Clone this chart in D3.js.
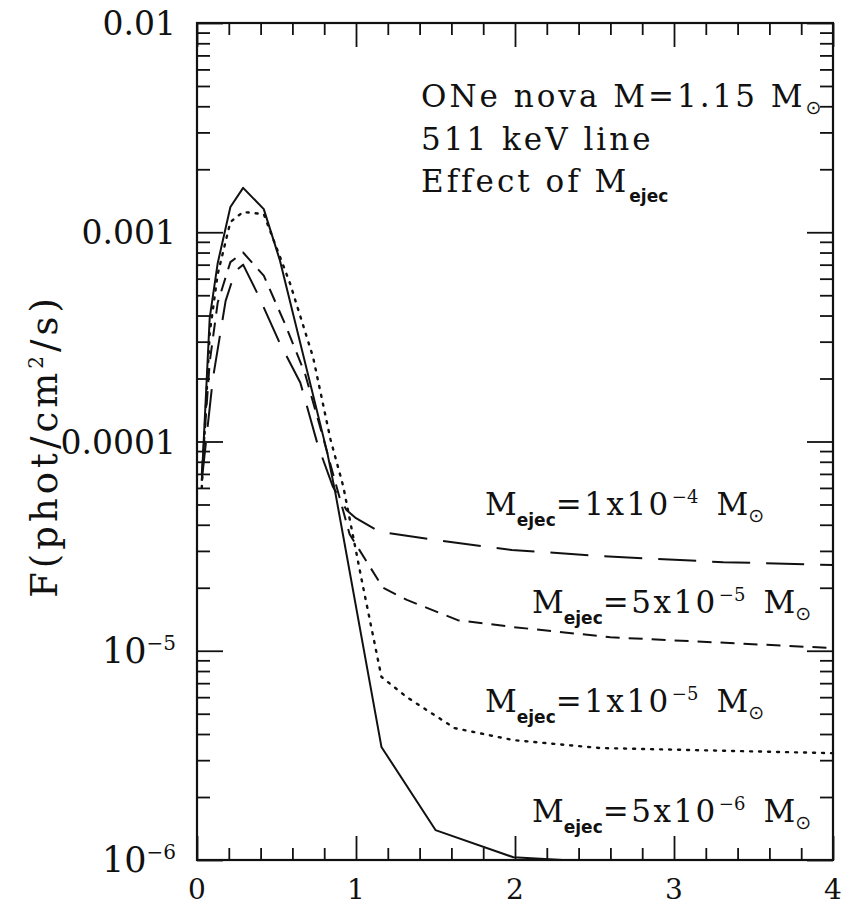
<!DOCTYPE html>
<html><head><meta charset="utf-8">
<script src="https://cdn.jsdelivr.net/npm/d3@7"></script>
<style>body{margin:0;background:#fff}</style>
</head><body>
<script>
// ---- data ----
const solidX  = [0.03, 0.08, 0.13, 0.21, 0.29, 0.42, 0.52, 0.82, 0.87, 1.16, 1.50, 1.99, 2.3, 4.0];
const solidY  = [6.5e-5, 3.9e-4, 7.1e-4, 1.32e-3, 1.63e-3, 1.29e-3, 7.4e-4, 8.8e-5, 5.7e-5, 3.47e-6, 1.39e-6, 1.03e-6, 1.0e-6, 1.0e-6];
const dotX    = [0.03, 0.08, 0.13, 0.21, 0.29, 0.42, 0.585, 0.73, 0.84, 0.92, 1.04, 1.16, 1.32, 1.62, 1.99, 2.53, 4.0];
const dotY    = [6.0e-5, 3.3e-4, 6.3e-4, 1.12e-3, 1.25e-3, 1.22e-3, 5.7e-4, 2.53e-4, 1.02e-4, 6.1e-5, 2.1e-5, 7.5e-6, 6.0e-6, 4.27e-6, 3.74e-6, 3.43e-6, 3.24e-6];
const sdashX  = [0.03, 0.08, 0.13, 0.21, 0.29, 0.42, 0.55, 0.68, 0.80, 0.88, 0.96, 1.17, 1.32, 1.64, 1.98, 2.6, 4.0];
const sdashY  = [7.0e-5, 2.4e-4, 4.6e-4, 7.2e-4, 8.0e-4, 6.2e-4, 3.7e-4, 2.1e-4, 1.0e-4, 6.0e-5, 3.6e-5, 2.0e-5, 1.75e-5, 1.4e-5, 1.3e-5, 1.16e-5, 1.03e-5];
const ldashX  = [0.03, 0.10, 0.18, 0.24, 0.29, 0.38, 0.52, 0.65, 0.76, 0.855, 0.94, 1.0, 1.15, 1.50, 1.98, 2.62, 3.31, 4.0];
const ldashY  = [6.5e-5, 2.0e-4, 4.7e-4, 6.5e-4, 7.0e-4, 5.1e-4, 2.96e-4, 1.91e-4, 9.6e-5, 6.07e-5, 4.71e-5, 4.3e-5, 3.7e-5, 3.38e-5, 3.03e-5, 2.81e-5, 2.65e-5, 2.57e-5];

const xTickMajor = [0, 1, 2, 3, 4];
const yDecades = [1e-6, 1e-5, 1e-4, 1e-3, 1e-2];
const yDecadeLabels = [["10","−6"], ["10","−5"], ["0.0001",""], ["0.001",""], ["0.01",""]];
const titleLines = ["ONe nova M=1.15 M", "511 keV line", "Effect of M"];
const labelMant = ["1", "5", "1", "5"];
const labelExp  = ["−4", "−5", "−5", "−6"];

// ---- layout ----
const W = 850, H = 907;
const L = 197, R = 833, T = 23, B = 860;
const svg = d3.select("body").append("svg").attr("width", W).attr("height", H)
  .style("font-family", "'DejaVu Serif', serif");

const x = d3.scaleLinear().domain([0, 4]).range([L, R]);
const y = d3.scaleLog().domain([1e-6, 1e-2]).range([B, T]);

const ink = "#111";

// minor ticks
const xMinor = d3.range(0, 4.001, 0.2).map(v => +v.toFixed(2)).filter(v => !xTickMajor.includes(v));
const yMinor = [];
for (let e = -6; e < -2; e++) for (let k = 2; k <= 9; k++) yMinor.push(k * Math.pow(10, e));

function addAxis(axis, tf) {
  const g = svg.append("g").attr("transform", tf).call(axis);
  g.select(".domain").remove();
  g.selectAll("line").attr("stroke", ink).attr("stroke-width", 1.8);
  g.selectAll("text").remove();
  return g;
}
addAxis(d3.axisBottom(x).tickValues(xMinor).tickSize(-12), `translate(0,${B})`);
addAxis(d3.axisBottom(x).tickValues(xTickMajor).tickSize(-24), `translate(0,${B})`);
addAxis(d3.axisTop(x).tickValues(xMinor).tickSize(-12), `translate(0,${T})`);
addAxis(d3.axisTop(x).tickValues(xTickMajor).tickSize(-24), `translate(0,${T})`);
addAxis(d3.axisLeft(y).tickValues(yMinor).tickSize(-13), `translate(${L},0)`);
addAxis(d3.axisLeft(y).tickValues(yDecades).tickSize(-26), `translate(${L},0)`);
addAxis(d3.axisRight(y).tickValues(yMinor).tickSize(-13), `translate(${R},0)`);
addAxis(d3.axisRight(y).tickValues(yDecades).tickSize(-26), `translate(${R},0)`);

// frame
svg.append("rect").attr("x", L).attr("y", T).attr("width", R - L).attr("height", B - T)
  .attr("fill", "none").attr("stroke", ink).attr("stroke-width", 2.2);

// x tick labels
svg.append("g").selectAll("text").data(xTickMajor).join("text")
  .attr("x", d => x(d)).attr("y", 899).attr("text-anchor", "middle")
  .attr("font-size", 28).attr("fill", ink).text(d => d);

// y tick labels
const yl = svg.append("g").selectAll("text").data(yDecades).join("text")
  .attr("x", 176).attr("y", d => y(d) + 12).attr("text-anchor", "end")
  .attr("font-size", 33).attr("fill", ink);
yl.each(function(d, i) {
  const t = d3.select(this);
  const [base, sup] = yDecadeLabels[i];
  t.append("tspan").text(base).attr("font-size", sup ? 35 : 33);
  if (sup) t.append("tspan").text(sup).attr("font-size", 20).attr("dy", -13);
});

// y axis title
svg.append("text").attr("transform", "translate(57,446) rotate(-90)")
  .attr("text-anchor", "middle").attr("font-size", 37).attr("letter-spacing", 4).attr("fill", ink)
  .call(t => {
    t.append("tspan").text("F(phot/cm");
    t.append("tspan").text("2").attr("font-size", 20).attr("dy", -14);
    t.append("tspan").text("/s)").attr("dy", 14);
  });

// curves
const line = d3.line().x(d => x(d[0])).y(d => y(d[1]));
const series = [
  {xs: solidX, ys: solidY, dash: null, w: 2},
  {xs: dotX, ys: dotY, dash: "2,7", w: 2.4},
  {xs: sdashX, ys: sdashY, dash: "14,9", w: 2},
  {xs: ldashX, ys: ldashY, dash: "38,16", w: 2},
];
series.forEach(s => {
  svg.append("path").datum(d3.zip(s.xs, s.ys)).attr("d", line)
    .attr("fill", "none").attr("stroke", ink).attr("stroke-width", s.w)
    .attr("stroke-linejoin", "round")
    .attr("stroke-linecap", s.dash === "2,7" ? "round" : "butt")
    .attr("stroke-dasharray", s.dash);
});

// title block
const tb = svg.append("g").attr("font-size", 31).attr("fill", ink).attr("letter-spacing", 3);
const t1 = tb.append("text").attr("x", 421).attr("y", 107);
t1.append("tspan").text(titleLines[0]);
t1.append("tspan").text("⊙").attr("font-family", "'DejaVu Sans'").attr("font-size", 19).attr("dy", 7).attr("letter-spacing", 0);
tb.append("text").attr("x", 421).attr("y", 150).text(titleLines[1]);
const t3 = tb.append("text").attr("x", 421).attr("y", 192);
t3.append("tspan").text(titleLines[2]);
t3.append("tspan").text("ejec").attr("font-family", "'DejaVu Sans'").attr("font-weight", "bold")
  .attr("font-size", 17).attr("dy", 10).attr("letter-spacing", 0);

// curve labels
const labelPos = [[485, 515], [532, 613], [485, 712], [532, 822]];
labelPos.forEach(([lx, ly], i) => {
  const t = svg.append("text").attr("x", lx).attr("y", ly).attr("font-size", 31)
    .attr("fill", ink);
  t.append("tspan").text("M");
  t.append("tspan").text("ejec").attr("font-family", "'DejaVu Sans'").attr("font-weight", "bold")
    .attr("font-size", 17).attr("dy", 11);
  t.append("tspan").text("=" + labelMant[i] + "x10").attr("dy", -11).attr("letter-spacing", 2.5);
  t.append("tspan").text(labelExp[i]).attr("font-size", 18).attr("dy", -12).attr("dx", 1);
  t.append("tspan").text("M").attr("dy", 12).attr("dx", 18);
  t.append("tspan").text("⊙").attr("font-family", "'DejaVu Sans'").attr("font-size", 19).attr("dy", 7);
});
</script>
</body></html>
